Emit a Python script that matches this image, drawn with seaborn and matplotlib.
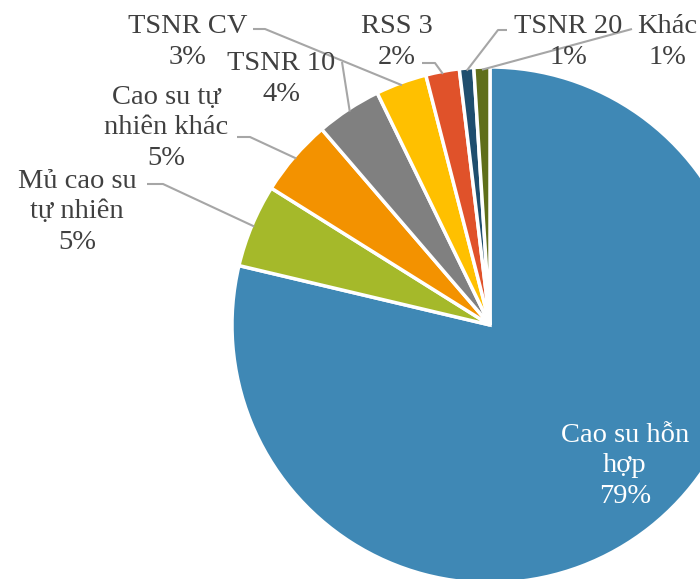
import numpy as np
import matplotlib
matplotlib.use('Agg')
import matplotlib.pyplot as plt
import seaborn as sns

# du lieu
names = ['Cao su hỗn\nhợp', 'Mủ cao su\ntự nhiên', 'Cao su tự\nnhiên khác',
         'TSNR 10', 'TSNR CV', 'RSS 3', 'TSNR 20', 'Khác']
shares = [78.7, 5.2, 4.8, 4.1, 3.2, 2.1, 0.9, 1.0]
colors = ['#3F88B5', '#A5B92A', '#F39200', '#808080',
          '#FFC000', '#E0522A', '#1F4E6E', '#5F6E1A']

# label placement (pixel centres) and leader start / elbow points
label_px = [(625, 466), (77, 212), (166, 128), (281, 79),
            (188, 42), (397, 42), (568, 42), (667, 42)]
leader_px = [None, [(147, 184), (163, 184)], [(237, 137), (250, 137)],
             [(342, 62)], [(253, 29), (265, 29)], [(422, 63), (435, 63)],
             [(507, 30), (498, 30)], [(632, 29)]]

TEXT = '#404040'
LINE = '#A6A6A6'
W, H = 700, 579
CX, CY, R = 490, 325, 258

sns.set_theme(style='white')
plt.rcParams['font.family'] = ['Liberation Serif', 'DejaVu Serif']


def px(p):
    return ((p[0] - CX) / R, (CY - p[1]) / R)


fig = plt.figure(figsize=(W / 100, H / 100), dpi=100)
ax = fig.add_axes([0, 0, 1, 1])
wedges, _ = ax.pie(shares, colors=colors, startangle=90, counterclock=False,
                   radius=1, wedgeprops=dict(edgecolor='white', linewidth=2.5))
ax.set_aspect('auto')
ax.set_xlim(-CX / R, (W - CX) / R)
ax.set_ylim(-(H - CY) / R, CY / R)
ax.axis('off')

for i, w in enumerate(wedges):
    pct = f'{round(shares[i])}%'
    x, y = px(label_px[i])
    if i == 0:
        ax.text(x, y, names[i] + '\n' + pct, color='white', fontsize=20.5,
                ha='center', va='center', linespacing=1.3)
        continue
    ax.text(x, y, names[i] + '\n' + pct, color=TEXT, fontsize=20.5,
            ha='center', va='center', linespacing=1.3)
    mid = np.deg2rad((w.theta1 + w.theta2) / 2)
    end = (0.99 * np.cos(mid), 0.99 * np.sin(mid))
    pts = [px(p) for p in leader_px[i]] + [end]
    ax.plot([p[0] for p in pts], [p[1] for p in pts], color=LINE, lw=1.5,
            solid_capstyle='butt')

fig.savefig('out.png', dpi=100, facecolor='white')
